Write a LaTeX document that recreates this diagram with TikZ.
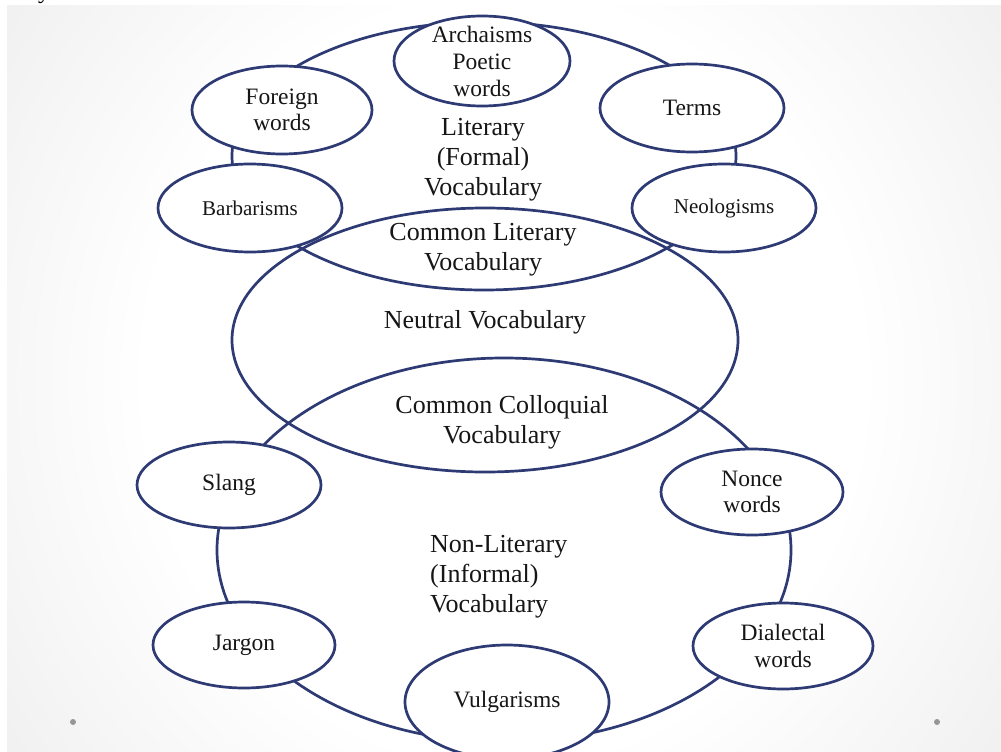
\documentclass[tikz,border=0pt]{standalone}
\usepackage{fontspec}
\setmainfont{Liberation Serif}
\usetikzlibrary{shapes.geometric}
\definecolor{ringblue}{RGB}{46,58,116}
\definecolor{softgray}{RGB}{240,240,240}
\definecolor{midgray}{RGB}{226,226,226}
\definecolor{edgegray}{RGB}{216,216,216}
\definecolor{cornergray}{RGB}{208,208,208}
\definecolor{inkgray}{RGB}{22,22,22}
\definecolor{dotgray}{RGB}{150,150,150}
% slide backdrop: white centre fading to grey towards the sides
\pgfdeclareradialshading{slideglow}{\pgfpoint{0bp}{0bp}}{%
  color(0bp)=(white); color(18bp)=(white); color(31bp)=(softgray);
  color(43bp)=(midgray); color(50bp)=(edgegray); color(71bp)=(cornergray)}
\begin{document}
\begin{tikzpicture}[x=1pt,y=-1pt,
  ring/.style={ellipse, draw=ringblue, line width=2.7pt, inner sep=0pt},
  bubble/.style={ring, fill=white},
  lbl/.style={text=inkgray, align=center, inner sep=0pt},
  bigtxt/.style={lbl, font=\fontsize{26}{30}\selectfont},
  midtxt/.style={lbl, font=\fontsize{23.5}{26.5}\selectfont},
  smalltxt/.style={lbl, font=\fontsize{21}{24}\selectfont},
  slidedot/.style={circle, fill=dotgray, inner sep=0pt, minimum size=6pt}
]
\useasboundingbox (0,0) rectangle (1001,752);
% page and slide background
\fill[white] (0,0) rectangle (1001,752);
\begin{scope}
  \clip (7,6) rectangle (1001,752);
  \shade[shading=slideglow] (7,-150) rectangle (1001,908);
\end{scope}
\node[lbl, anchor=base, text=black, font=\fontsize{24}{24}\selectfont] (cuty) at (44,-1) {y};

% the three overlapping vocabulary layers
\node[ring, minimum width=504pt, minimum height=268pt] (literary) at (484,156) {};
\node[ring, minimum width=506pt, minimum height=264pt] (neutral) at (485,340) {};
\node[ring, minimum width=574pt, minimum height=384pt] (nonlit) at (504,550) {};

% satellite groups
\node[bubble, minimum width=176pt, minimum height=90pt] (arch) at (482,61) {};
\node[bubble, minimum width=180pt, minimum height=88pt] (foreign) at (282,110) {};
\node[bubble, minimum width=184pt, minimum height=88pt] (terms) at (692,108) {};
\node[bubble, minimum width=184pt, minimum height=88pt] (barb) at (250,208) {};
\node[bubble, minimum width=184pt, minimum height=88pt] (neo) at (724,208) {};
\node[bubble, minimum width=184pt, minimum height=86pt] (slang) at (229,485) {};
\node[bubble, minimum width=182pt, minimum height=86pt] (nonce) at (752,492) {};
\node[bubble, minimum width=182pt, minimum height=86pt] (jargon) at (244,645) {};
\node[bubble, minimum width=180pt, minimum height=86pt] (dial) at (783,646) {};
\node[bubble, minimum width=204pt, minimum height=114pt] (vulg) at (507,702) {};

% labels
\node[midtxt, font=\fontsize{23.5}{27}\selectfont] (archT) at (arch) {Archaisms\\Poetic\\words};
\node[midtxt] (foreignT) at (foreign) {Foreign\\words};
\node[midtxt] (termsT) at (terms) {Terms};
\node[smalltxt] (barbT) at (barb) {Barbarisms};
\node[smalltxt] (neoT) at (neo) {Neologisms};
\node[midtxt] (slangT) at (slang) {Slang};
\node[midtxt] (nonceT) at (nonce) {Nonce\\words};
\node[midtxt] (jargonT) at (jargon) {Jargon};
\node[midtxt] (dialT) at (dial) {Dialectal\\words};
\node[midtxt] (vulgT) at (vulg) {Vulgarisms};

\node[bigtxt] (literaryT) at (483,160) {Literary\\(Formal)\\Vocabulary};
\node[bigtxt] (commonLitT) at (483,250) {Common Literary\\Vocabulary};
\node[bigtxt] (neutralT) at (485,322) {Neutral Vocabulary};
\node[bigtxt] (commonColT) at (502,422) {Common Colloquial\\Vocabulary};
\node[bigtxt, align=left, anchor=west] (nonlitT) at (430,577) {Non-Literary\\(Informal)\\Vocabulary};

% slide bullets
\node[slidedot] (dotL) at (73,722) {};
\node[slidedot] (dotR) at (937,722) {};
\end{tikzpicture}
\end{document}
